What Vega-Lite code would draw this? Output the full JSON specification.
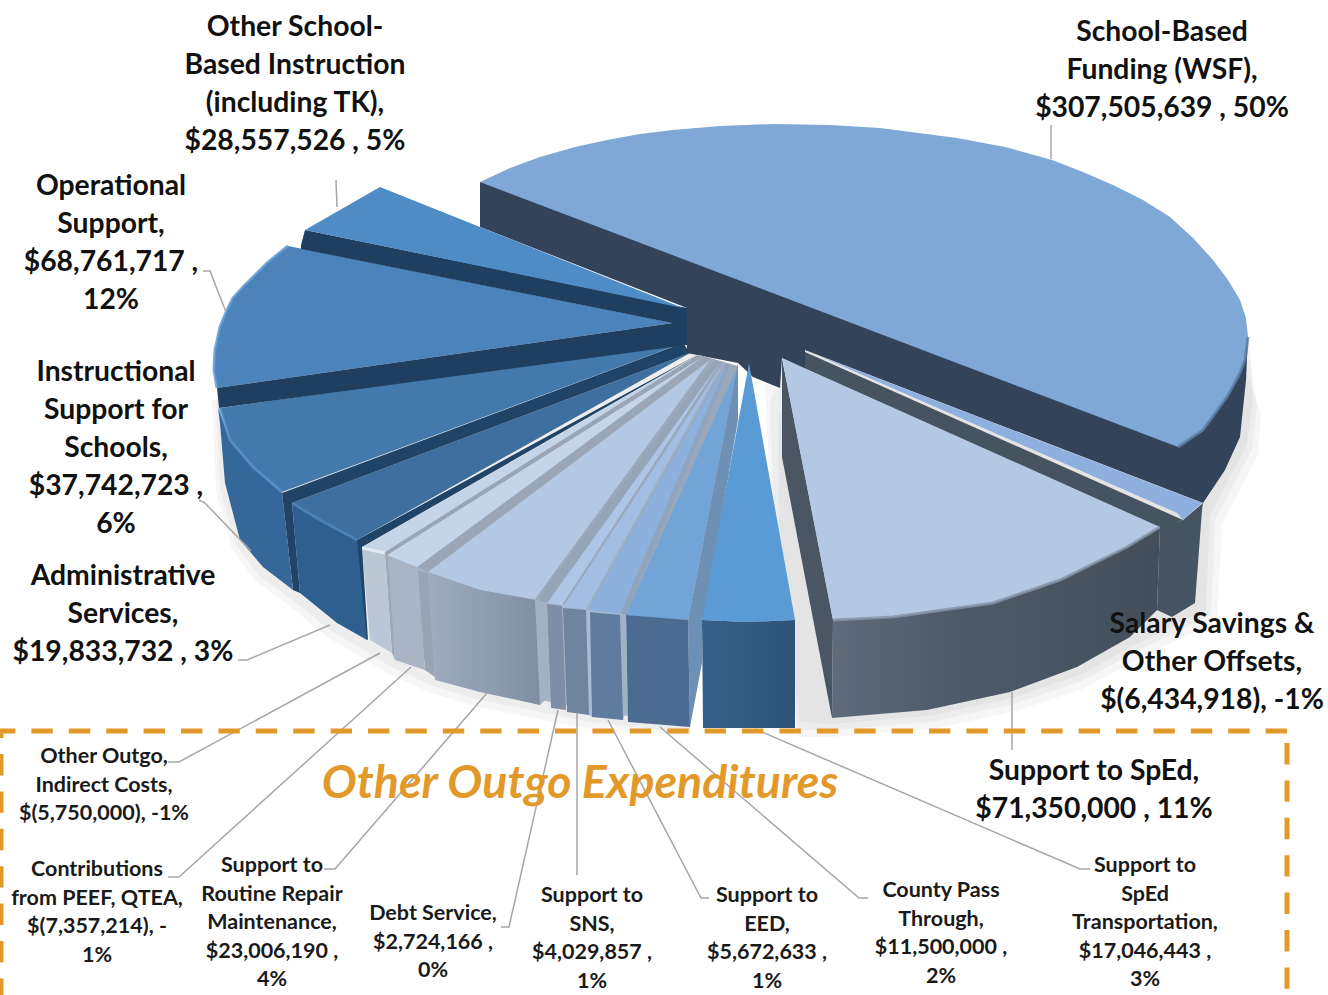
{
  "$schema": "https://vega.github.io/schema/vega-lite/v6.json",
  "width": 1328,
  "height": 995,
  "padding": 0,
  "autosize": "none",
  "background": "white",
  "config": {"view": {"stroke": null}},
  "datasets": {
    "halo": [
      {"ring":"r1","x":805,"y":350},{"ring":"r1","x":1250,"y":345},{"ring":"r1","x":1253,"y":400},{"ring":"r1","x":1247,"y":445},{"ring":"r1","x":1210,"y":515},{"ring":"r1","x":1206,"y":610},{"ring":"r1","x":1175,"y":625},{"ring":"r1","x":1135,"y":645},{"ring":"r1","x":1080,"y":675},{"ring":"r1","x":1012,"y":698},{"ring":"r1","x":930,"y":716},{"ring":"r1","x":832,"y":724},{"ring":"r1","x":800,"y":722},{"ring":"r1","x":770,"y":500},{"ring":"r1","x":765,"y":385},
      {"ring":"r2","x":805,"y":350},{"ring":"r2","x":1250,"y":360},{"ring":"r2","x":1257,"y":405},{"ring":"r2","x":1252,"y":450},{"ring":"r2","x":1215,"y":520},{"ring":"r2","x":1211,"y":615},{"ring":"r2","x":1178,"y":631},{"ring":"r2","x":1137,"y":651},{"ring":"r2","x":1082,"y":681},{"ring":"r2","x":1014,"y":704},{"ring":"r2","x":931,"y":722},{"ring":"r2","x":832,"y":730},{"ring":"r2","x":798,"y":730},{"ring":"r2","x":775,"y":560},{"ring":"r2","x":770,"y":400},
      {"ring":"r3","x":805,"y":350},{"ring":"r3","x":1248,"y":375},{"ring":"r3","x":1261,"y":415},{"ring":"r3","x":1258,"y":455},{"ring":"r3","x":1222,"y":525},{"ring":"r3","x":1217,"y":622},{"ring":"r3","x":1182,"y":638},{"ring":"r3","x":1140,"y":658},{"ring":"r3","x":1085,"y":688},{"ring":"r3","x":1016,"y":711},{"ring":"r3","x":933,"y":729},{"ring":"r3","x":832,"y":737},{"ring":"r3","x":798,"y":737},{"ring":"r3","x":780,"y":600},{"ring":"r3","x":778,"y":420},
      {"ring":"l1","x":690,"y":350},{"ring":"l1","x":216,"y":400},{"ring":"l1","x":220,"y":490},{"ring":"l1","x":236,"y":545},{"ring":"l1","x":258,"y":575},{"ring":"l1","x":292,"y":600},{"ring":"l1","x":330,"y":630},{"ring":"l1","x":364,"y":650},{"ring":"l1","x":393,"y":668},{"ring":"l1","x":433,"y":686},{"ring":"l1","x":480,"y":700},{"ring":"l1","x":540,"y":712},{"ring":"l1","x":590,"y":722},{"ring":"l1","x":690,"y":733},{"ring":"l1","x":700,"y":360},
      {"ring":"l2","x":690,"y":350},{"ring":"l2","x":212,"y":400},{"ring":"l2","x":216,"y":492},{"ring":"l2","x":232,"y":549},{"ring":"l2","x":255,"y":581},{"ring":"l2","x":289,"y":606},{"ring":"l2","x":327,"y":637},{"ring":"l2","x":361,"y":657},{"ring":"l2","x":390,"y":675},{"ring":"l2","x":431,"y":693},{"ring":"l2","x":478,"y":707},{"ring":"l2","x":540,"y":719},{"ring":"l2","x":590,"y":729},{"ring":"l2","x":690,"y":736},{"ring":"l2","x":700,"y":360}
    ],
    "shapes": [
      {"part":"wsf_side","x":480,"y":182},{"part":"wsf_side","x":480,"y":227},{"part":"wsf_side","x":687,"y":308},{"part":"wsf_side","x":687,"y":353},{"part":"wsf_side","x":738,"y":363},{"part":"wsf_side","x":753,"y":377},{"part":"wsf_side","x":780,"y":388},{"part":"wsf_side","x":782,"y":358},{"part":"wsf_side","x":805,"y":369},{"part":"wsf_side","x":805,"y":350},{"part":"wsf_side","x":1203,"y":503},{"part":"wsf_side","x":1225,"y":470},{"part":"wsf_side","x":1240,"y":437},{"part":"wsf_side","x":1246,"y":380},{"part":"wsf_side","x":1248,"y":337},{"part":"wsf_side","x":1178,"y":300},
      {"part":"wsf_top","x":480,"y":182},{"part":"wsf_top","x":510,"y":168},{"part":"wsf_top","x":540,"y":157},{"part":"wsf_top","x":575,"y":147},{"part":"wsf_top","x":607,"y":140},{"part":"wsf_top","x":640,"y":134},{"part":"wsf_top","x":673,"y":130},{"part":"wsf_top","x":720,"y":126},{"part":"wsf_top","x":773,"y":124},{"part":"wsf_top","x":830,"y":125},{"part":"wsf_top","x":880,"y":128},{"part":"wsf_top","x":957,"y":138},{"part":"wsf_top","x":1005,"y":147},{"part":"wsf_top","x":1052,"y":160},{"part":"wsf_top","x":1083,"y":172},{"part":"wsf_top","x":1113,"y":185},{"part":"wsf_top","x":1143,"y":200},{"part":"wsf_top","x":1170,"y":217},{"part":"wsf_top","x":1193,"y":238},{"part":"wsf_top","x":1213,"y":260},{"part":"wsf_top","x":1228,"y":280},{"part":"wsf_top","x":1240,"y":300},{"part":"wsf_top","x":1246,"y":318},{"part":"wsf_top","x":1248,"y":337},{"part":"wsf_top","x":1245,"y":360},{"part":"wsf_top","x":1240,"y":373},{"part":"wsf_top","x":1227,"y":397},{"part":"wsf_top","x":1203,"y":430},{"part":"wsf_top","x":1178,"y":447},
      {"part":"sal_side","x":1183,"y":520},{"part":"sal_side","x":1203,"y":503},{"part":"sal_side","x":1202,"y":510},{"part":"sal_side","x":1195,"y":603},{"part":"sal_side","x":1172,"y":617},{"part":"sal_side","x":1157,"y":610},{"part":"sal_side","x":1160,"y":527},
      {"part":"sal_face","x":805,"y":352},{"part":"sal_face","x":1183,"y":520},{"part":"sal_face","x":1160,"y":528},{"part":"sal_face","x":805,"y":369},
      {"part":"sal_top","x":817,"y":355},{"part":"sal_top","x":1202,"y":503},{"part":"sal_top","x":1183,"y":520},{"part":"sal_top","x":1177,"y":513},
      {"part":"sped_face","x":782,"y":358},{"part":"sped_face","x":782,"y":457},{"part":"sped_face","x":832,"y":718},{"part":"sped_face","x":833,"y":620},
      {"part":"sped_top","x":782,"y":358},{"part":"sped_top","x":1160,"y":527},{"part":"sped_top","x":1127,"y":547},{"part":"sped_top","x":1060,"y":580},{"part":"sped_top","x":993,"y":603},{"part":"sped_top","x":893,"y":617},{"part":"sped_top","x":833,"y":620},
      {"part":"fan_back","x":700,"y":355},{"part":"fan_back","x":362,"y":548},{"part":"fan_back","x":428,"y":572},{"part":"fan_back","x":535,"y":600},{"part":"fan_back","x":626,"y":615},{"part":"fan_back","x":688,"y":620},{"part":"fan_back","x":738,"y":366},
      {"part":"front_back","x":385,"y":552},{"part":"front_back","x":428,"y":572},{"part":"front_back","x":535,"y":600},{"part":"front_back","x":626,"y":615},{"part":"front_back","x":628,"y":716},{"part":"front_back","x":540,"y":700},{"part":"front_back","x":392,"y":648},
      {"part":"county_strip","x":738,"y":363},{"part":"county_strip","x":738,"y":420},{"part":"county_strip","x":702,"y":630},{"part":"county_strip","x":702,"y":663},{"part":"county_strip","x":690,"y":727},{"part":"county_strip","x":688,"y":620},
      {"part":"transport_top","x":749,"y":363},{"part":"transport_top","x":702,"y":620},{"part":"transport_top","x":747,"y":622},{"part":"transport_top","x":795,"y":620},
      {"part":"county_top","x":737,"y":368},{"part":"county_top","x":626,"y":615},{"part":"county_top","x":655,"y":618},{"part":"county_top","x":688,"y":620},
      {"part":"county_front","x":626,"y":615},{"part":"county_front","x":688,"y":620},{"part":"county_front","x":690,"y":727},{"part":"county_front","x":628,"y":722},
      {"part":"eed_strip","x":727,"y":363},{"part":"eed_strip","x":620,"y":614},{"part":"eed_strip","x":626,"y":615},{"part":"eed_strip","x":730,"y":365},
      {"part":"eed_strip_front","x":620,"y":615},{"part":"eed_strip_front","x":626,"y":616},{"part":"eed_strip_front","x":627,"y":707},{"part":"eed_strip_front","x":623,"y":720},
      {"part":"eed_top","x":727,"y":363},{"part":"eed_top","x":588,"y":610},{"part":"eed_top","x":620,"y":614},
      {"part":"eed_front","x":588,"y":612},{"part":"eed_front","x":620,"y":615},{"part":"eed_front","x":623,"y":720},{"part":"eed_front","x":592,"y":717},
      {"part":"sns_strip","x":723,"y":363},{"part":"sns_strip","x":586,"y":609},{"part":"sns_strip","x":588,"y":610},{"part":"sns_strip","x":725,"y":363},
      {"part":"sns_strip_front","x":586,"y":610},{"part":"sns_strip_front","x":590,"y":611},{"part":"sns_strip_front","x":592,"y":717},{"part":"sns_strip_front","x":589,"y":715},
      {"part":"sns_top","x":723,"y":363},{"part":"sns_top","x":563,"y":607},{"part":"sns_top","x":586,"y":609},
      {"part":"sns_front","x":563,"y":608},{"part":"sns_front","x":586,"y":610},{"part":"sns_front","x":589,"y":715},{"part":"sns_front","x":567,"y":712},
      {"part":"debt_top","x":720,"y":362},{"part":"debt_top","x":547,"y":603},{"part":"debt_top","x":562,"y":605},
      {"part":"debt_front","x":547,"y":604},{"part":"debt_front","x":562,"y":606},{"part":"debt_front","x":566,"y":710},{"part":"debt_front","x":551,"y":708},
      {"part":"routine_strip","x":715,"y":360},{"part":"routine_strip","x":537,"y":600},{"part":"routine_strip","x":547,"y":603},{"part":"routine_strip","x":720,"y":362},
      {"part":"routine_strip_front","x":535,"y":600},{"part":"routine_strip_front","x":547,"y":603},{"part":"routine_strip_front","x":550,"y":695},{"part":"routine_strip_front","x":540,"y":705},
      {"part":"routine_left","x":705,"y":357},{"part":"routine_left","x":418,"y":568},{"part":"routine_left","x":428,"y":572},{"part":"routine_left","x":710,"y":360},
      {"part":"routine_left_front","x":418,"y":570},{"part":"routine_left_front","x":428,"y":573},{"part":"routine_left_front","x":435,"y":677},{"part":"routine_left_front","x":425,"y":670},
      {"part":"routine_top","x":710,"y":360},{"part":"routine_top","x":428,"y":572},{"part":"routine_top","x":480,"y":590},{"part":"routine_top","x":535,"y":599},
      {"part":"contrib_top","x":702,"y":357},{"part":"contrib_top","x":387,"y":555},{"part":"contrib_top","x":417,"y":567},
      {"part":"contrib_front","x":387,"y":557},{"part":"contrib_front","x":417,"y":568},{"part":"contrib_front","x":425,"y":670},{"part":"contrib_front","x":395,"y":660},
      {"part":"outgo_strip","x":697,"y":355},{"part":"outgo_strip","x":385,"y":552},{"part":"outgo_strip","x":387,"y":555},{"part":"outgo_strip","x":702,"y":357},
      {"part":"outgo_strip_front","x":385,"y":552},{"part":"outgo_strip_front","x":388,"y":556},{"part":"outgo_strip_front","x":395,"y":660},{"part":"outgo_strip_front","x":392,"y":653},
      {"part":"outgo_top","x":697,"y":355},{"part":"outgo_top","x":362,"y":548},{"part":"outgo_top","x":385,"y":552},
      {"part":"outgo_front","x":362,"y":548},{"part":"outgo_front","x":385,"y":553},{"part":"outgo_front","x":392,"y":653},{"part":"outgo_front","x":370,"y":640},
      {"part":"admin_strip","x":697,"y":355},{"part":"admin_strip","x":357,"y":540},{"part":"admin_strip","x":358,"y":633},{"part":"admin_strip","x":368,"y":640},{"part":"admin_strip","x":362,"y":547},
      {"part":"admin_top","x":690,"y":353},{"part":"admin_top","x":292,"y":503},{"part":"admin_top","x":320,"y":520},{"part":"admin_top","x":357,"y":540},
      {"part":"admin_front","x":292,"y":503},{"part":"admin_front","x":320,"y":520},{"part":"admin_front","x":357,"y":540},{"part":"admin_front","x":367,"y":640},{"part":"admin_front","x":337,"y":623},{"part":"admin_front","x":300,"y":593},
      {"part":"instr_strip","x":683,"y":343},{"part":"instr_strip","x":282,"y":493},{"part":"instr_strip","x":293,"y":590},{"part":"instr_strip","x":300,"y":593},{"part":"instr_strip","x":292,"y":503},{"part":"instr_strip","x":690,"y":353},
      {"part":"instr_side","x":218,"y":408},{"part":"instr_side","x":220,"y":423},{"part":"instr_side","x":225,"y":483},{"part":"instr_side","x":240,"y":540},{"part":"instr_side","x":263,"y":567},{"part":"instr_side","x":293,"y":590},{"part":"instr_side","x":282,"y":492},{"part":"instr_side","x":253,"y":467},{"part":"instr_side","x":230,"y":440},
      {"part":"instr_top","x":220,"y":408},{"part":"instr_top","x":230,"y":440},{"part":"instr_top","x":253,"y":467},{"part":"instr_top","x":282,"y":492},{"part":"instr_top","x":683,"y":343},
      {"part":"oper_top","x":288,"y":246},{"part":"oper_top","x":267,"y":263},{"part":"oper_top","x":243,"y":287},{"part":"oper_top","x":233,"y":298},{"part":"oper_top","x":227,"y":310},{"part":"oper_top","x":220,"y":327},{"part":"oper_top","x":215,"y":350},{"part":"oper_top","x":214,"y":370},{"part":"oper_top","x":217,"y":388},{"part":"oper_top","x":673,"y":323},
      {"part":"oper_band","x":217,"y":388},{"part":"oper_band","x":219,"y":408},{"part":"oper_band","x":687,"y":345},{"part":"oper_band","x":687,"y":320},{"part":"oper_band","x":673,"y":323},
      {"part":"other_band","x":305,"y":230},{"part":"other_band","x":301,"y":245},{"part":"other_band","x":301,"y":249},{"part":"other_band","x":687,"y":326},{"part":"other_band","x":687,"y":308},
      {"part":"other_top","x":380,"y":187},{"part":"other_top","x":305,"y":230},{"part":"other_top","x":683,"y":308},
      {"part":"sped_side","x":833,"y":620},{"part":"sped_side","x":893,"y":617},{"part":"sped_side","x":993,"y":603},{"part":"sped_side","x":1060,"y":580},{"part":"sped_side","x":1127,"y":547},{"part":"sped_side","x":1160,"y":527},{"part":"sped_side","x":1157,"y":610},{"part":"sped_side","x":1130,"y":637},{"part":"sped_side","x":1077,"y":667},{"part":"sped_side","x":1010,"y":692},{"part":"sped_side","x":927,"y":710},{"part":"sped_side","x":832,"y":718},
      {"part":"transport_front","x":702,"y":620},{"part":"transport_front","x":747,"y":622},{"part":"transport_front","x":795,"y":620},{"part":"transport_front","x":795,"y":728},{"part":"transport_front","x":703,"y":728},
      {"part":"routine_front","x":428,"y":572},{"part":"routine_front","x":480,"y":590},{"part":"routine_front","x":535,"y":600},{"part":"routine_front","x":540,"y":705},{"part":"routine_front","x":480,"y":692},{"part":"routine_front","x":435,"y":680}
    ],
    "rims": [
      {"rim":"oper","x":288,"y":246},{"rim":"oper","x":267,"y":263},{"rim":"oper","x":243,"y":287},{"rim":"oper","x":233,"y":298},{"rim":"oper","x":227,"y":310},{"rim":"oper","x":220,"y":327},{"rim":"oper","x":215,"y":350},{"rim":"oper","x":214,"y":370},{"rim":"oper","x":217,"y":388},
      {"rim":"instr","x":220,"y":408},{"rim":"instr","x":230,"y":440},{"rim":"instr","x":253,"y":467},{"rim":"instr","x":282,"y":492},
      {"rim":"admin","x":292,"y":503},{"rim":"admin","x":320,"y":520},{"rim":"admin","x":357,"y":540},
      {"rim":"outgo","x":362,"y":548},{"rim":"outgo","x":385,"y":553},
      {"rim":"sped","x":833,"y":620},{"rim":"sped","x":893,"y":617},{"rim":"sped","x":993,"y":603},{"rim":"sped","x":1060,"y":580},{"rim":"sped","x":1127,"y":547},{"rim":"sped","x":1160,"y":527},
      {"rim":"wsf","x":1248,"y":337},{"rim":"wsf","x":1245,"y":360},{"rim":"wsf","x":1240,"y":373},{"rim":"wsf","x":1227,"y":397},{"rim":"wsf","x":1203,"y":430},{"rim":"wsf","x":1178,"y":447}
    ],
    "leaders": [
      {"category":"School-Based Funding","x":1051,"y":125},{"category":"School-Based Funding","x":1051,"y":159},
      {"category":"Other School-Based Instruction","x":336,"y":180},{"category":"Other School-Based Instruction","x":337,"y":207},
      {"category":"Operational Support","x":203,"y":271},{"category":"Operational Support","x":210,"y":271},{"category":"Operational Support","x":226,"y":312},
      {"category":"Instructional Support","x":199,"y":500},{"category":"Instructional Support","x":205,"y":503},{"category":"Instructional Support","x":251,"y":551},
      {"category":"Administrative Services","x":238,"y":660},{"category":"Administrative Services","x":247,"y":660},{"category":"Administrative Services","x":330,"y":625},
      {"category":"Other Outgo","x":168,"y":762},{"category":"Other Outgo","x":179,"y":762},{"category":"Other Outgo","x":380,"y":653},
      {"category":"Contributions","x":168,"y":877},{"category":"Contributions","x":179,"y":877},{"category":"Contributions","x":411,"y":667},
      {"category":"Routine Repair","x":324,"y":869},{"category":"Routine Repair","x":335,"y":869},{"category":"Routine Repair","x":487,"y":693},
      {"category":"Debt Service","x":501,"y":927},{"category":"Debt Service","x":509,"y":927},{"category":"Debt Service","x":558,"y":710},
      {"category":"SNS","x":577,"y":875},{"category":"SNS","x":577,"y":713},
      {"category":"EED","x":709,"y":898},{"category":"EED","x":701,"y":898},{"category":"EED","x":608,"y":720},
      {"category":"County Pass Through","x":868,"y":898},{"category":"County Pass Through","x":859,"y":898},{"category":"County Pass Through","x":660,"y":727},
      {"category":"SpEd Transportation","x":1090,"y":869},{"category":"SpEd Transportation","x":1080,"y":869},{"category":"SpEd Transportation","x":755,"y":729},
      {"category":"Support to SpEd","x":1012,"y":692},{"category":"Support to SpEd","x":1012,"y":750}
    ],
    "frame": [
      {"run":"top and left","x":1287,"y":731},{"run":"top and left","x":1,"y":731},{"run":"top and left","x":1,"y":995},
      {"run":"right","x":1287,"y":743},{"run":"right","x":1287,"y":995}
    ],
    "budget": [
      {"category":"School-Based Funding","tier":"major","label":"School-Based\nFunding (WSF),\n$307,505,639 , 50%","x":1162,"y":41},
      {"category":"Other School-Based Instruction","tier":"major","label":"Other School-\nBased Instruction\n(including TK),\n$28,557,526 , 5%","x":295,"y":36},
      {"category":"Operational Support","tier":"major","label":"Operational\nSupport,\n$68,761,717 ,\n12%","x":111,"y":195},
      {"category":"Instructional Support","tier":"major","label":"Instructional\nSupport for\nSchools,\n$37,742,723 ,\n6%","x":116,"y":381},
      {"category":"Administrative Services","tier":"major","label":"Administrative\nServices,\n$19,833,732 , 3%","x":123,"y":585},
      {"category":"Salary Savings","tier":"major","label":"Salary Savings &\nOther Offsets,\n$(6,434,918), -1%","x":1212,"y":633},
      {"category":"Support to SpEd","tier":"major","label":"Support to SpEd,\n$71,350,000 , 11%","x":1094,"y":780},
      {"category":"Other Outgo","tier":"minor","label":"Other Outgo,\nIndirect Costs,\n$(5,750,000), -1%","x":104,"y":763},
      {"category":"Contributions","tier":"minor","label":"Contributions\nfrom PEEF, QTEA,\n$(7,357,214), -\n1%","x":97,"y":876},
      {"category":"Routine Repair","tier":"minor","label":"Support to\nRoutine Repair\nMaintenance,\n$23,006,190 ,\n4%","x":272,"y":872},
      {"category":"Debt Service","tier":"minor","label":"Debt Service,\n$2,724,166 ,\n0%","x":433,"y":920},
      {"category":"SNS","tier":"minor","label":"Support to\nSNS,\n$4,029,857 ,\n1%","x":592,"y":902},
      {"category":"EED","tier":"minor","label":"Support to\nEED,\n$5,672,633 ,\n1%","x":767,"y":902},
      {"category":"County Pass Through","tier":"minor","label":"County Pass\nThrough,\n$11,500,000 ,\n2%","x":941,"y":897},
      {"category":"SpEd Transportation","tier":"minor","label":"Support to\nSpEd\nTransportation,\n$17,046,443 ,\n3%","x":1145,"y":872},
      {"category":"Other Outgo Expenditures","tier":"heading","label":"Other Outgo Expenditures","x":580,"y":798}
    ]
  },
  "layer": [
    {
      "data": {"name": "halo"},
      "transform": [{"window": [{"op": "row_number", "as": "seq"}]}],
      "mark": {"type": "line", "strokeWidth": 0, "interpolate": "linear-closed", "fill": "#000000", "fillOpacity": 0.035},
      "encoding": {
        "x": {"field": "x", "type": "quantitative", "scale": {"domain": [0, 1328], "nice": false, "zero": false}, "axis": null},
        "y": {"field": "y", "type": "quantitative", "scale": {"domain": [995, 0], "nice": false, "zero": false}, "axis": null},
        "detail": {"field": "ring"},
        "order": {"field": "seq"}
      }
    },
    {
      "data": {"name": "shapes"},
      "transform": [
        {"window": [{"op": "row_number", "as": "seq"}]},
        {"filter": "indexof(['sped_side','transport_front','routine_front'], datum.part) < 0"}
      ],
      "mark": {"type": "line", "strokeWidth": 0, "interpolate": "linear-closed"},
      "encoding": {
        "x": {"field": "x", "type": "quantitative"},
        "y": {"field": "y", "type": "quantitative"},
        "order": {"field": "seq"},
        "fill": {
          "field": "part",
          "type": "nominal",
          "legend": null,
          "sort": null,
          "scale": {
            "domain": ["wsf_side","wsf_top","sal_side","sal_face","sal_top","sped_face","sped_top","fan_back","front_back","county_strip","transport_top","county_top","county_front","eed_strip","eed_strip_front","eed_top","eed_front","sns_strip","sns_strip_front","sns_top","sns_front","debt_top","debt_front","routine_strip","routine_strip_front","routine_left","routine_left_front","routine_top","contrib_top","contrib_front","outgo_strip","outgo_strip_front","outgo_top","outgo_front","admin_strip","admin_top","admin_front","instr_strip","instr_side","instr_top","oper_band","oper_top","other_band","other_top"],
            "range": ["#33435A","#7FA8D6","#465360","#465360","#8FB0DE","#4A5664","#B3C8E3","#9AA8BC","#A8B6C8","#6F90B5","#5B9BD5","#72A4D8","#4C6B90","#8FA5BF","#A0B2C9","#8DB0DD","#5F7C9E","#9DB0C8","#A8BCD3","#A3BEE3","#6F849F","#AEC6E6","#7E8EA7","#95A5B8","#A4B1C3","#9AA5B5","#9AA3B2","#B3C8E3","#C5D5E9","#A9B4C5","#9AA5B5","#A0A8B5","#C5D5E9","#BCC7D6","#1F4467","#3F6F9E","#2F5F8E","#1F4467","#36679A","#4479AC","#1E3F60","#4D83BB","#1E3F60","#4F8BC5"]
          }
        }
      }
    },
    {
      "data": {"name": "shapes"},
      "transform": [{"window": [{"op": "row_number", "as": "seq"}]}, {"filter": "datum.part === 'sped_side'"}],
      "mark": {"type": "line", "strokeWidth": 0, "interpolate": "linear-closed", "fill": {"gradient": "linear", "x1": 0, "x2": 1, "y1": 0, "y2": 0, "stops": [{"offset": 0, "color": "#5F6B7A"}, {"offset": 0.35, "color": "#4F5B69"}, {"offset": 1, "color": "#434E5A"}]}},
      "encoding": {"x": {"field": "x", "type": "quantitative"}, "y": {"field": "y", "type": "quantitative"}, "order": {"field": "seq"}}
    },
    {
      "data": {"name": "shapes"},
      "transform": [{"window": [{"op": "row_number", "as": "seq"}]}, {"filter": "datum.part === 'transport_front'"}],
      "mark": {"type": "line", "strokeWidth": 0, "interpolate": "linear-closed", "fill": {"gradient": "linear", "x1": 0, "x2": 1, "y1": 0, "y2": 0, "stops": [{"offset": 0, "color": "#36608A"}, {"offset": 1, "color": "#2E5378"}]}},
      "encoding": {"x": {"field": "x", "type": "quantitative"}, "y": {"field": "y", "type": "quantitative"}, "order": {"field": "seq"}}
    },
    {
      "data": {"name": "shapes"},
      "transform": [{"window": [{"op": "row_number", "as": "seq"}]}, {"filter": "datum.part === 'routine_front'"}],
      "mark": {"type": "line", "strokeWidth": 0, "interpolate": "linear-closed", "fill": {"gradient": "linear", "x1": 0, "x2": 1, "y1": 0, "y2": 0, "stops": [{"offset": 0, "color": "#9FACBF"}, {"offset": 1, "color": "#808EA4"}]}},
      "encoding": {"x": {"field": "x", "type": "quantitative"}, "y": {"field": "y", "type": "quantitative"}, "order": {"field": "seq"}}
    },
    {
      "data": {"name": "rims"},
      "transform": [{"window": [{"op": "row_number", "as": "seq"}]}],
      "mark": {"type": "line", "strokeWidth": 3, "strokeOpacity": 0.8},
      "encoding": {
        "x": {"field": "x", "type": "quantitative"},
        "y": {"field": "y", "type": "quantitative"},
        "order": {"field": "seq"},
        "stroke": {
          "field": "rim",
          "type": "nominal",
          "legend": null,
          "scale": {
            "domain": ["oper", "instr", "admin", "outgo", "sped", "wsf"],
            "range": ["#5B96CF", "#5791C9", "#4E85BA", "#EEF3F9", "#8594A8", "#5E7FA6"]
          }
        }
      }
    },
    {
      "data": {"name": "leaders"},
      "transform": [{"window": [{"op": "row_number", "as": "seq"}]}],
      "mark": {"type": "line", "stroke": "#A6A6A6", "strokeWidth": 1.5},
      "encoding": {"x": {"field": "x", "type": "quantitative"}, "y": {"field": "y", "type": "quantitative"}, "detail": {"field": "category"}, "order": {"field": "seq"}}
    },
    {
      "data": {"name": "frame"},
      "transform": [{"window": [{"op": "row_number", "as": "seq"}]}],
      "mark": {"type": "line", "stroke": "#E2992A", "strokeWidth": 5, "strokeDash": [21.4, 16]},
      "encoding": {"x": {"field": "x", "type": "quantitative"}, "y": {"field": "y", "type": "quantitative"}, "detail": {"field": "run"}, "order": {"field": "seq"}}
    },
    {
      "data": {"name": "budget"},
      "transform": [{"filter": "datum.tier === 'major'"}],
      "mark": {"type": "text", "font": "Lato", "fontWeight": "bold", "fontSize": 28.3, "lineHeight": 38, "align": "center", "baseline": "alphabetic", "lineBreak": "\n", "color": "#111111"},
      "encoding": {"x": {"field": "x", "type": "quantitative"}, "y": {"field": "y", "type": "quantitative"}, "text": {"field": "label"}}
    },
    {
      "data": {"name": "budget"},
      "transform": [{"filter": "datum.tier === 'minor'"}],
      "mark": {"type": "text", "font": "Lato", "fontWeight": "bold", "fontSize": 21.5, "lineHeight": 28.6, "align": "center", "baseline": "alphabetic", "lineBreak": "\n", "color": "#1A1A1A"},
      "encoding": {"x": {"field": "x", "type": "quantitative"}, "y": {"field": "y", "type": "quantitative"}, "text": {"field": "label"}}
    },
    {
      "data": {"name": "budget"},
      "transform": [{"filter": "datum.tier === 'heading'"}],
      "mark": {"type": "text", "font": "Lato", "fontWeight": "bold", "fontStyle": "italic", "fontSize": 46.5, "align": "center", "baseline": "alphabetic", "color": "#E2992A"},
      "encoding": {"x": {"field": "x", "type": "quantitative"}, "y": {"field": "y", "type": "quantitative"}, "text": {"field": "label"}}
    }
  ]
}
